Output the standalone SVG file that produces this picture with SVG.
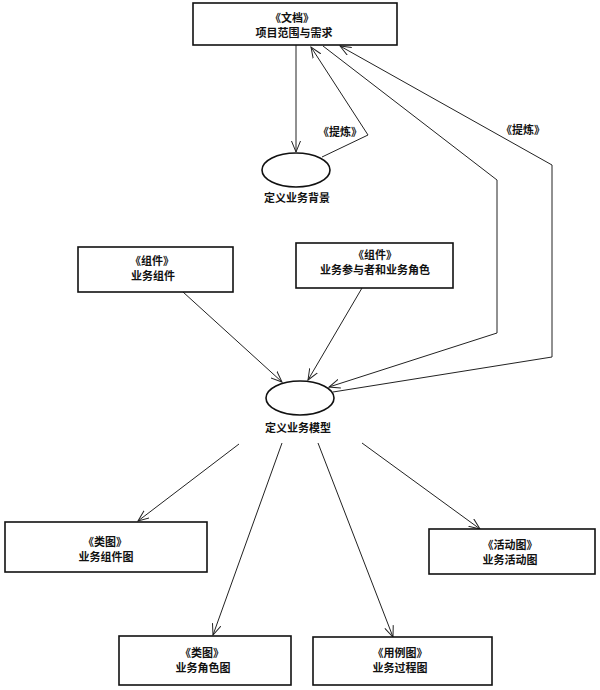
<svg xmlns="http://www.w3.org/2000/svg" width="600" height="690" viewBox="0 0 600 690">
<style>
.box{fill:#fff;stroke:#111;stroke-width:1.6}
.ell{fill:#fff;stroke:#111;stroke-width:1.6}
.t{font-family:"Noto Sans CJK SC","Noto Sans",sans-serif;font-size:11px;font-weight:bold;fill:#111;text-anchor:middle}
.c{fill:none;stroke:#222;stroke-width:1}
</style>
<defs>
<marker id="arr" viewBox="0 0 12 10" refX="11" refY="5" markerWidth="12" markerHeight="10" markerUnits="userSpaceOnUse" orient="auto">
<path d="M0,0.5 L11,5 L0,9.5" fill="none" stroke="#222" stroke-width="1"/>
</marker>
</defs>
<rect width="600" height="690" fill="#fff"/>
<g id="connectors">
<line class="c" x1="296" y1="45" x2="296" y2="152" marker-end="url(#arr)"/>
<polyline class="c" points="322,157 368,135 311,47" marker-end="url(#arr)"/>
<polyline class="c" points="323,46 497,180 497,333 329,387" marker-end="url(#arr)"/>
<polyline class="c" points="333,392 552,357 552,165 340,46" marker-end="url(#arr)"/>
<line class="c" x1="183" y1="292" x2="282" y2="382" marker-end="url(#arr)"/>
<line class="c" x1="362" y1="288" x2="308" y2="380" marker-end="url(#arr)"/>
<line class="c" x1="239" y1="444" x2="138" y2="521" marker-end="url(#arr)"/>
<line class="c" x1="282" y1="443" x2="213" y2="635" marker-end="url(#arr)"/>
<line class="c" x1="318" y1="443" x2="393" y2="637" marker-end="url(#arr)"/>
<line class="c" x1="362" y1="443" x2="480" y2="529" marker-end="url(#arr)"/>
<text class="t" x="340" y="136">《提炼》</text>
<text class="t" x="523" y="134">《提炼》</text>
</g>
<g id="doc">
<rect class="box" x="193" y="3" width="204" height="42"/>
<text class="t" x="292" y="22">《文档》</text>
<text class="t" x="294" y="37">项目范围与需求</text>
</g>
<g id="bgcontext">
<ellipse class="ell" cx="296" cy="170" rx="34" ry="17"/>
<text class="t" x="297" y="202">定义业务背景</text>
</g>
<g id="comp1">
<rect class="box" x="78" y="247" width="155" height="45"/>
<text class="t" x="152" y="265">《组件》</text>
<text class="t" x="153" y="280">业务组件</text>
</g>
<g id="comp2">
<rect class="box" x="296" y="243" width="157" height="45"/>
<text class="t" x="375" y="259">《组件》</text>
<text class="t" x="375" y="274">业务参与者和业务角色</text>
</g>
<g id="model">
<ellipse class="ell" cx="300" cy="398" rx="34" ry="17"/>
<text class="t" x="298" y="432">定义业务模型</text>
</g>
<g id="d1">
<rect class="box" x="5" y="522" width="202" height="50"/>
<text class="t" x="105" y="546">《类图》</text>
<text class="t" x="106" y="561">业务组件图</text>
</g>
<g id="d2">
<rect class="box" x="119" y="636" width="172" height="49"/>
<text class="t" x="202" y="657">《类图》</text>
<text class="t" x="203" y="672">业务角色图</text>
</g>
<g id="d3">
<rect class="box" x="313" y="637" width="179" height="48"/>
<text class="t" x="400" y="657">《用例图》</text>
<text class="t" x="400" y="672">业务过程图</text>
</g>
<g id="d4">
<rect class="box" x="429" y="529" width="166" height="45"/>
<text class="t" x="510" y="549">《活动图》</text>
<text class="t" x="510" y="564">业务活动图</text>
</g>
</svg>
